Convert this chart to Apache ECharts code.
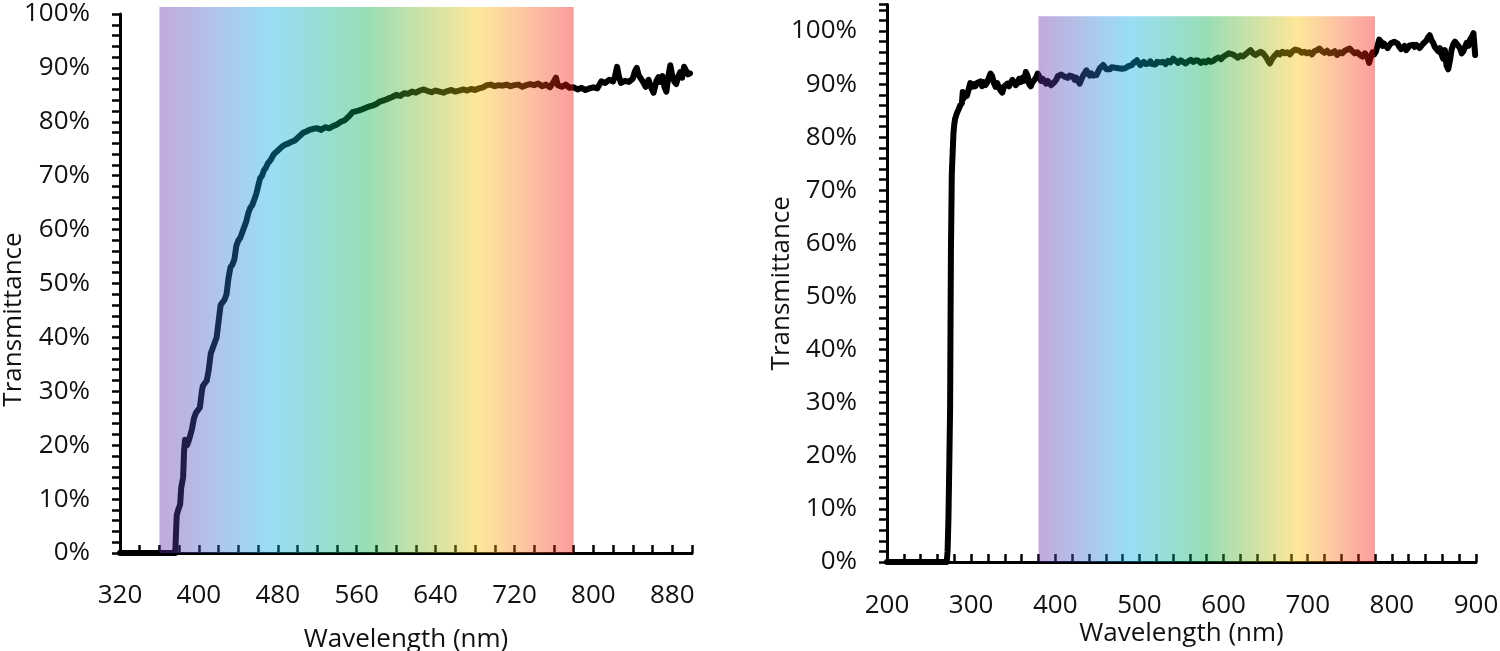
<!DOCTYPE html>
<html>
<head>
<meta charset="utf-8">
<script src="https://cdn.jsdelivr.net/npm/echarts@6/dist/echarts.min.js"></script>
<style>
html,body{margin:0;padding:0;background:#fff;}
#chart{width:1500px;height:651px;}
</style>
</head>
<body>
<div id="chart"></div>
<script>
// ---------- DATA ----------
// Left panel: wavelength (nm), transmittance (%)
const leftWavelength = [320,340,360,376,377.5,379,381,382,384,385,386,388,390,392,393,395,397,399,401,403,404,406,408,410,412,414,416,418,420,422,424,426,428,430,432,434,436,438,440,442,444,446,448,450,452,454,456,458,460,462,464,466,468,470,473,476,479,482,485,488,491,494,497,500,503,506,509,512,516,520,524,528,532,536,540,544,548,552,556,560,564,568,572,576,580,584,588,592,596,600,604,608,612,616,620,624,628,632,636,640,644,648,652,656,660,664,668,672,676,680,684,688,692,696,700,704,708,712,716,720,724,728,732,736,740,744,748,752,756,760,762,764,768,772,776,780,784,788,792,796,800,804,808,812,816,820,822,824,826,828,832,836,840,842,844,846,848,850,853,856,858,861,864,866,868,870,872,874,876,878,880,882,884,886,888,890,892,894,896,898];
const leftTransmittance = [0,0,0,0,7,8,9,12,14,19,21,20,21,21,23,25,26,26,27,30,31,31,32,34,37,38,39,40,43,46,46.5,47,48,51,53,53.5,54.5,57,58,58.5,59.5,60.5,61.5,63,64,64.5,65.5,66.5,68,69.5,70,71,71.5,72.3,73,74,74.5,75,75.5,75.8,76,76.3,76.5,77,77.5,78,78.2,78.5,78.7,78.8,78.5,79,78.8,79.2,79.5,80,80.3,81,81.8,82,82.2,82.5,82.8,83,83.3,83.8,84,84.3,84.6,85,84.8,85.3,85.2,85.6,85.4,85.8,86,85.7,85.5,85.8,85.6,85.4,85.7,85.9,85.6,85.8,86,85.8,86.1,85.9,86.2,86.4,86.8,86.9,86.6,86.8,86.7,86.9,86.6,86.8,86.9,86.5,86.8,87,86.8,87.1,86.6,86.9,86.4,87.5,88.2,86.8,86.5,86.9,86.3,86.4,86.0,86.3,85.9,86.2,86.4,86.2,87.5,87.2,87.8,87.5,88.5,90.2,88.3,87.2,87.6,87.4,88.0,89.3,90.0,88.6,88.9,87.5,86.5,87.8,86.6,85.4,87.6,88.3,87.4,88.5,86.5,85.6,88.4,90.5,88.5,87.5,87.0,88.4,89.2,88.2,90.2,90.5,88.8,89.0];
// Right panel
const rightWavelength = [200,230,260,271,272,273,274,275,275.5,276,276.5,277,278,279,280,281,283,285,287,289,290,291,293,295,297,299,301,303,305,307,309,311,313,315,317,319,321,323,325,327,329,331,333,335,337,339,341,343,345,347,349,351,353,355,357,359,361,363,365,367,369,371,373,375,377,379,381,383,385,387,389,391,393,395,397,399,401,403,405,407,409,411,413,415,417,419,421,423,425,427,429,431,433,435,437,439,441,443,445,447,449,451,453,455,457,459,461,463,465,467,469,471,473,475,477,479,481,483,485,487,489,491,493,495,497,499,501,503,505,507,509,511,513,515,517,519,521,523,525,528,531,534,537,540,543,546,549,552,555,558,561,564,567,570,573,576,579,582,585,588,591,594,597,600,603,606,608,611,614,617,620,623,626,629,632,635,638,641,644,647,650,653,655,658,661,664,667,670,673,676,679,682,685,687,690,693,696,699,702,705,708,711,714,717,720,723,726,729,732,735,738,741,744,747,750,753,756,759,762,765,768,771,773,775,777,779,781,783,785,787,789,791,793,795,797,799,801,803,805,807,809,811,813,815,817,819,821,823,825,827,829,831,833,835,837,839,841,843,845,847,849,851,853,855,857,859,861,863,865,867,869,871,873,875,877,879,881,883,885,887,889,891,893,895,897,898,899];
const rightTransmittance = [0,0,0,0,2,8,18,29,45,59,66,73,77,80.8,82.5,83.5,84.5,85.2,86,86.4,88.5,87.3,88.3,87.8,89,90.2,89.5,90,89.6,90.2,90,90.5,89.6,90.4,89.8,90.3,91.2,92,91.5,90.2,89.5,90.2,89.4,88.8,88.4,89.5,89.2,90.1,89.6,90.3,90.8,90.5,89.8,90.2,91,90.4,91.2,90.6,92.3,91.6,90,89.6,90.4,90.1,91.2,92,91.4,90.6,91,90.5,90.1,90.6,90.2,89.8,89.5,90.4,90.8,91.5,91.2,91.8,92,91.4,91.7,91.2,91.6,91.4,91.4,90.8,91.2,90.6,90.1,90.9,91.6,92.1,92.6,92.0,91.6,92.0,91.6,91.4,91.7,92.4,93.0,93.2,93.6,93.2,92.8,93.0,92.8,93.2,93.0,93.1,92.8,93.0,93.2,92.9,93.1,93.0,93.0,93.4,93.1,93.6,94.0,94.3,94.5,94.0,93.6,93.9,94.2,93.8,93.6,93.9,94.3,93.8,94.0,93.7,94.2,93.9,94.1,94.2,93.8,94.4,94.1,94.8,94.4,94.0,94.5,94.2,93.9,94.3,94.6,94.2,94.5,94.4,94.0,94.3,94.1,94.5,94.2,94.4,94.8,95.0,94.7,95.2,95.5,95.8,96.0,95.6,95.3,95.0,95.4,95.2,95.6,96.0,96.4,95.8,95.5,95.8,96.1,95.8,95.2,94.4,93.9,94.8,95.4,95.9,95.6,96.1,95.8,96.0,95.6,96.2,96.5,96.7,96.3,95.9,96.1,95.8,96.0,95.6,96.2,96.4,96.7,96.2,95.9,96.3,95.8,95.9,96.2,95.5,96.0,95.8,96.3,96.5,96.7,96.2,95.8,96.0,95.5,95.2,95.8,95.0,94.0,95.2,96.0,95.6,96.1,96.4,98.4,98.0,97.2,97.6,97.4,96.8,97.3,97.7,97.4,98.0,98.3,97.6,97.0,96.6,96.9,97.2,96.4,96.8,97.3,97.0,97.4,97.0,97.4,97.2,96.8,97.2,97.6,97.8,98.2,98.8,99.2,98.3,97.8,97.0,97.2,96.2,96.8,95.6,94.8,96.4,93.5,92.8,94.4,96.5,97.5,98.0,98.3,97.2,96.8,95.8,96.2,97.0,97.8,97.2,98.4,98.9,99.6,97.5,95.5];

// Visible-spectrum band [start nm, end nm, top %]
const leftBand = [360, 780, 101.3];
const rightBand = [380, 780, 102.8];

// Tick labels
const leftXLabels = [320,400,480,560,640,720,800,880];
const rightXLabels = [200,300,400,500,600,700,800,900];
const yLabels = [0,10,20,30,40,50,60,70,80,90,100];

// ---------- CHART ----------
const FONT = 'Open Sans';
const chart = echarts.init(document.getElementById('chart'), null, {renderer:'canvas'});

function bandGradient(){
  return new echarts.graphic.LinearGradient(0,0,1,0,[
    {offset:0.00, color:'rgba(105,40,170,0.4)'},
    {offset:0.13, color:'rgba(60,105,205,0.4)'},
    {offset:0.27, color:'rgba(0,172,232,0.4)'},
    {offset:0.50, color:'rgba(0,172,70,0.4)'},
    {offset:0.77, color:'rgba(250,195,0,0.4)'},
    {offset:0.88, color:'rgba(250,110,25,0.4)'},
    {offset:1.00, color:'rgba(245,10,10,0.4)'}
  ]);
}

function xAxisCfg(idx, min, max, labels, nameGap, margin){
  return {
    type:'value', gridIndex:idx, min:min, max:max, interval:20,
    name:'Wavelength (nm)', nameLocation:'middle', nameGap:nameGap, nameMoveOverlap:false,
    nameTextStyle:{fontFamily:FONT, fontSize:26, color:'#111'},
    axisLine:{show:true, onZero:false, lineStyle:{color:'#000', width:3}},
    axisTick:{show:true, inside:true, length:8, lineStyle:{color:'#000', width:2.5}},
    axisLabel:{fontFamily:FONT, fontSize:26, color:'#111', margin:margin,
      formatter:(v)=> labels.indexOf(v) >= 0 ? String(v) : ''},
    splitLine:{show:false}
  };
}
function yAxisCfg(idx, max, nameGap, namePad){
  return {
    type:'value', gridIndex:idx, min:0, max:max, interval:2,
    name:'Transmittance', nameLocation:'middle', nameGap:nameGap, nameRotate:90, nameMoveOverlap:false,
    nameTextStyle:{fontFamily:FONT, fontSize:26, color:'#111', padding:namePad},
    axisLine:{show:true, lineStyle:{color:'#000', width:3}},
    axisTick:{show:true, inside:false, length:8, lineStyle:{color:'#000', width:2.5}},
    axisLabel:{fontFamily:FONT, fontSize:26, color:'#111', margin:30,
      formatter:(v)=> yLabels.indexOf(v) >= 0 ? v + '%' : ''},
    splitLine:{show:false}
  };
}
function bandSeries(idx, band){
  return {
    type:'custom', xAxisIndex:idx, yAxisIndex:idx, z:10, clip:false, silent:true,
    data:[band],
    encode:{x:[0,1], y:2},
    renderItem:(params, api)=>{
      const p0 = api.coord([api.value(0), 0]);
      const p1 = api.coord([api.value(1), api.value(2)]);
      return {type:'rect', shape:{x:p0[0], y:p1[1], width:p1[0]-p0[0], height:p0[1]-p1[1]},
        style:{fill:bandGradient()}};
    }
  };
}
function lineSeries(idx, xs, ys){
  return {
    type:'line', xAxisIndex:idx, yAxisIndex:idx, z:2, showSymbol:false, silent:true,
    data: xs.map((x,i)=>[x, ys[i]]),
    lineStyle:{color:'#000', width:6, cap:'round', join:'round'},
    animation:false
  };
}

chart.setOption({
  animation:false,
  backgroundColor:'#fff',
  grid:[
    {left:120, top:14, width:572, height:539, containLabel:false, outerBoundsMode:'none'},
    {left:887, top:4.5, width:589, height:557.5, containLabel:false, outerBoundsMode:'none'}
  ],
  xAxis:[ xAxisCfg(0, 320, 900, leftXLabels, 74, 30), xAxisCfg(1, 200, 900, rightXLabels, 59, 31) ],
  yAxis:[ yAxisCfg(0, 100, 93, [0,72,0,0]), yAxisCfg(1, 105, 92, [0,0,0,0]) ],
  series:[
    lineSeries(0, leftWavelength, leftTransmittance),
    bandSeries(0, leftBand),
    lineSeries(1, rightWavelength, rightTransmittance),
    bandSeries(1, rightBand)
  ]
});
</script>
</body>
</html>
